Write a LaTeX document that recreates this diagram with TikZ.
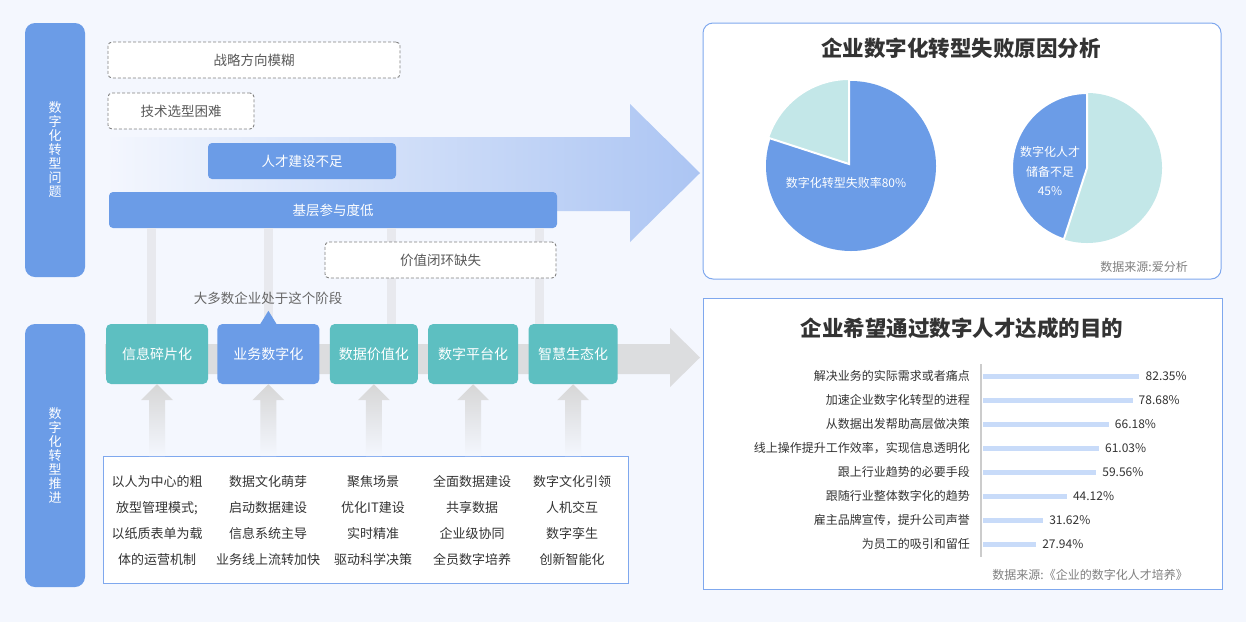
\documentclass[tikz,border=0pt]{standalone}
\usepackage{fontspec}
\setmainfont{Noto Sans CJK SC}
\usepackage{tikz}
\usetikzlibrary{positioning, arrows.meta}
\usepackage{xcolor}
\definecolor{bgcol}{HTML}{F4F7FE}
\definecolor{mainblue}{HTML}{6B9CE7}
\definecolor{stageteal}{HTML}{5DBFC1}
\definecolor{pieteal}{HTML}{C3E7E8}
\definecolor{arrowblue}{HTML}{ACC5F3}
\definecolor{arrowgrey}{HTML}{DCDDDF}
\definecolor{linegrey}{HTML}{E8E9EE}
\definecolor{panelblue}{HTML}{7FA8EE}
\definecolor{barblue}{HTML}{C8DBF9}
\definecolor{textdark}{HTML}{333333}
\tikzset{
  sidebar/.style={fill=mainblue, rounded corners=10pt, minimum width=60pt, minimum height=254pt, inner sep=0pt, text=white, align=center, font=\fontsize{13}{14}\selectfont},
  dashbox/.style={draw=black!50, line width=0.9pt, dash pattern=on 3pt off 2pt, fill=white, rounded corners=4pt, minimum height=36pt, inner sep=0pt, text=black!65, font=\fontsize{13.5}{16}\selectfont},
  probbox/.style={fill=mainblue, rounded corners=4pt, minimum height=36pt, inner sep=0pt, text=white, font=\fontsize{13.5}{16}\selectfont},
  stagebox/.style={fill=stageteal, rounded corners=5pt, minimum height=60pt, inner sep=0pt, text=white, font=\fontsize{14}{16}\selectfont},
  celltext/.style={align=center, text=textdark, inner sep=0pt, font=\fontsize{13}{25.7}\selectfont},
  paneltitle/.style={text=textdark, font=\fontsize{21.5}{24}\selectfont\bfseries},
  bartext/.style={text=textdark, inner sep=0pt, font=\fontsize{12}{14}\selectfont},
  sourcetext/.style={text=black!50, inner sep=0pt, font=\fontsize{12}{14}\selectfont},
  vline/.style={draw=linegrey, line width=9pt}
}
\begin{document}
\begin{tikzpicture}[x=1pt, y=-1pt]
  \useasboundingbox (0,0) rectangle (1246,622);
  \fill[bgcol] (0,0) rectangle (1246,622);
  % Side bars
  \node[sidebar] (probbar) at (55,150) {数\\字\\化\\转\\型\\问\\题};
  \node[sidebar, minimum height=263pt] (pushbar) at (55,455.5) {数\\字\\化\\转\\型\\推\\进};
  % Big arrows
  \shade[left color=bgcol, right color=arrowblue] (105,137) -- (630,137) -- (630,104) -- (700,173) -- (630,242) -- (630,211) -- (105,211) -- cycle;
  \fill[arrowgrey] (105,344) -- (670,344) -- (670,328) -- (700,357.5) -- (670,387) -- (670,374) -- (105,374) -- cycle;
  % Problem nodes
  \node[dashbox, minimum width=292pt] (strategy) at (254,60) {战略方向模糊};
  \node[dashbox, minimum width=146pt] (techsel) at (181,111) {技术选型困难};
  \node[probbox, minimum width=188pt] (talent) at (302,161) {人才建设不足};
  \node[probbox, minimum width=448pt] (jiceng) at (333,210) {基层参与度低};
  % Stage nodes
  \node[stagebox, minimum width=102pt] (stage1) at (157,354) {信息碎片化};
  \node[stagebox, minimum width=102pt, fill=mainblue, right=9pt of stage1] (stage2) {业务数字化};
  \node[stagebox, minimum width=88pt, right=10pt of stage2] (stage3) {数据价值化};
  \node[stagebox, minimum width=90pt, right=10pt of stage3] (stage4) {数字平台化};
  \node[stagebox, minimum width=89pt, right=10pt of stage4] (stage5) {智慧生态化};
  % Lines from problems to stages
  \foreach \x in {151,268,391,539}
    \draw[vline] (\x,0 |- jiceng.south) -- (\x,0 |- stage1.north);
  \fill[mainblue] ([xshift=-8pt]stage2.north) -- ([yshift=13pt]stage2.north) -- ([xshift=8pt]stage2.north) -- cycle;
  \node[text=black!60, font=\fontsize{13.5}{16}\selectfont] (most) at (268,298) {大多数企业处于这个阶段};
  \node[dashbox, minimum width=231pt] (closeloop) at (440.5,260) {价值闭环缺失};
  % Table
  \node[draw=panelblue, line width=1pt, fill=white, minimum width=525pt, minimum height=127pt, inner sep=0pt] (table) at (365.5,519.5) {};
  \foreach \s in {stage1,stage2,stage3,stage4,stage5}
    \shade[top color=black!16, bottom color=bgcol] (\s.south) -- ++(16,16) -- ++(-8,0) -- ++(0,56) -- ++(-16,0) -- ++(0,-56) -- ++(-8,0) -- cycle;
  \node[celltext] (col1) at (157,520.5) {以人为中心的粗\\放型管理模式;\\以纸质表单为载\\体的运营机制};
  \node[celltext] (col2) at (268,520.5) {数据文化萌芽\\启动数据建设\\信息系统主导\\业务线上流转加快};
  \node[celltext] (col3) at (373,520.5) {聚焦场景\\优化IT建设\\实时精准\\驱动科学决策};
  \node[celltext] (col4) at (472,520.5) {全面数据建设\\共享数据\\企业级协同\\全员数字培养};
  \node[celltext] (col5) at (572,520.5) {数字文化引领\\人机交互\\数字孪生\\创新智能化};
  % Pie panel
  \node[draw=panelblue, line width=1pt, fill=white, rounded corners=10pt, minimum width=518pt, minimum height=256pt, inner sep=0pt] (pieframe) at (962,151) {};
  \node[paneltitle] (pietitle) at (961,48) {企业数字化转型失败原因分析};
  \coordinate (pa) at (851,166);
  \coordinate (pb) at (1087,168);
  \fill[mainblue] (pa) circle[radius=85];
  \filldraw[fill=pieteal, draw=white, line width=2pt] ([shift={(-2,-2)}]pa) -- ++(-90:85) arc[start angle=-90, end angle=-162, radius=85] -- cycle;
  \fill[pieteal] (pb) circle[radius=75];
  \filldraw[fill=mainblue, draw=white, line width=2pt] (pb) -- ++(-90:75) arc[start angle=-90, end angle=-252, radius=75] -- cycle;
  \node[text=white, font=\fontsize{12}{14}\selectfont] (fail) at (846,183) {数字化转型失败率80\%};
  \node[text=white, align=center, font=\fontsize{12}{19.5}\selectfont] (lack) at (1050,171) {数字化人才\\储备不足\\45\%};
  \node[sourcetext, anchor=east] (src1) at (1188,267) {数据来源:爱分析};
  % Bar panel
  \node[draw=panelblue, line width=1pt, fill=white, minimum width=519pt, minimum height=291pt, inner sep=0pt] (barframe) at (962.5,443.5) {};
  \node[paneltitle] (bartitle) at (962,328) {企业希望通过数字人才达成的目的};
  \draw[draw=black!20, line width=2pt] (981,364) -- (981,557);
  \foreach \val/\lab [count=\i] in {82.35/解决业务的实际需求或者痛点, 78.68/加速企业数字化转型的进程, 66.18/从数据出发帮助高层做决策, 61.03/线上操作提升工作效率，实现信息透明化, 59.56/跟上行业趋势的必要手段, 44.12/跟随行业整体数字化的趋势, 31.62/雇主品牌宣传，提升公司声誉, 27.94/为员工的吸引和留任}{
    \pgfmathsetmacro\yy{352+24*\i}
    \pgfmathsetmacro\len{1.9*\val}
    \fill[barblue] (983,{\yy-2.5}) rectangle ({983+\len},{\yy+2.5});
    \node[bartext, anchor=east] (lab\i) at (970,\yy) {\lab};
    \node[bartext, anchor=west] (val\i) at ({983+\len+6},\yy) {\val\%};
  }
  \node[sourcetext, anchor=east] (src2) at (1188,575) {数据来源:《企业的数字化人才培养》};
\end{tikzpicture}
\end{document}
